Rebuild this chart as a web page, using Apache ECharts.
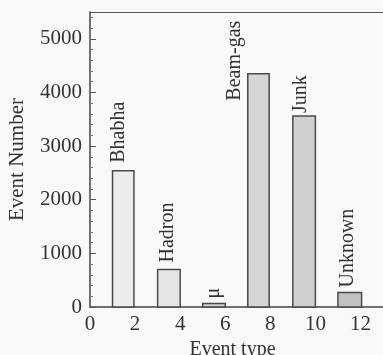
<!DOCTYPE html>
<html>
<head>
<meta charset="utf-8">
<script src="https://cdn.jsdelivr.net/npm/echarts@6/dist/echarts.min.js"></script>
<style>
  html, body { margin: 0; padding: 0; background: #f9f9f7; }
  #chart { width: 383px; height: 355px; }
</style>
</head>
<body>
<div id="chart"></div>
<script>
// bar spans along "Event type" and the event counts
const eventStart = [1, 3, 5, 7, 9, 11];
const eventEnd = [1.95, 4, 6, 7.95, 10, 12.05];
const eventCount = [2540, 700, 65, 4350, 3560, 270];
const eventNames = ["Bhabha", "Hadron", "\u03bc", "Beam-gas", "Junk", "Unknown"];
const xTicks = [0, 2, 4, 6, 8, 10, 12];
const yTicks = [0, 1000, 2000, 3000, 4000, 5000];

// looks only
const barFills = ["#ececea", "#e6e6e4", "#d2d2d0", "#d6d6d4", "#d0d0ce", "#c2c2c0"];
const labelShift = [[-4, 8], [-1, 7], [0, 5], [-24, -27], [-3, 3], [-2, 5]];
const serif = "'Liberation Serif', 'Times New Roman', serif";
const ink = "#333";

const chart = echarts.init(document.getElementById("chart"));

const data = eventStart.map((s, i) => [s, eventEnd[i], eventCount[i], i]);

chart.setOption({
  backgroundColor: "#f9f9f7",
  animation: false,
  grid: { left: 90, right: 0, top: 12, bottom: 48, outerBoundsMode: "none", containLabel: false },
  xAxis: [
    {
      type: "value",
      min: 0,
      max: 13,
      interval: 2,
      name: "Event type",
      nameLocation: "middle",
      nameGap: 30,
      nameTextStyle: { fontFamily: serif, fontSize: 20, color: ink, padding: [0, 8, 0, 0] },
      axisLine: { show: true, lineStyle: { color: "#444", width: 1.5 } },
      axisTick: { show: false },
      splitLine: { show: false },
      axisLabel: {
        fontFamily: serif,
        fontSize: 21,
        color: ink,
        margin: 7,
        showMaxLabel: false,
        formatter: v => (xTicks.includes(v) ? String(v) : "")
      }
    },
    {
      type: "value",
      position: "top",
      min: 0,
      max: 13,
      axisLine: { show: true, onZero: false, lineStyle: { color: "#555", width: 1.2 } },
      axisTick: { show: false },
      axisLabel: { show: false },
      splitLine: { show: false }
    }
  ],
  yAxis: {
    type: "value",
    min: 0,
    max: 5500,
    interval: 1000,
    name: "Event Number",
    nameLocation: "middle",
    nameGap: 62,
    nameTextStyle: { fontFamily: serif, fontSize: 21, color: ink },
    axisLine: { show: true, lineStyle: { color: "#444", width: 1.5 } },
    axisTick: { show: true, inside: true, length: 6, lineStyle: { color: "#555" } },
    minorTick: { show: true, splitNumber: 5, length: 3, lineStyle: { color: "#777" } },
    splitLine: { show: false },
    axisLabel: {
      fontFamily: serif,
      fontSize: 21,
      color: ink,
      margin: 8,
      showMaxLabel: false,
      formatter: v => (yTicks.includes(v) ? String(v) : "")
    }
  },
  series: [
    {
      type: "custom",
      data: data,
      encode: { x: [0, 1], y: 2 },
      renderItem: function (params, api) {
        const i = api.value(3);
        const topLeft = api.coord([api.value(0), api.value(2)]);
        const baseRight = api.coord([api.value(1), 0]);
        const w = baseRight[0] - topLeft[0];
        const h = baseRight[1] - topLeft[1];
        const shift = labelShift[i];
        return {
          type: "group",
          children: [
            {
              type: "rect",
              shape: { x: topLeft[0], y: topLeft[1], width: w, height: h },
              style: { fill: barFills[i], stroke: "#4a4a4a", lineWidth: 1.5 }
            },
            {
              type: "text",
              x: topLeft[0] + w / 2 + shift[0],
              y: topLeft[1] - shift[1],
              rotation: Math.PI / 2,
              style: {
                text: eventNames[i],
                font: "20px " + serif,
                fill: ink,
                align: "left",
                verticalAlign: "middle"
              }
            }
          ]
        };
      }
    }
  ]
});
</script>
</body>
</html>
